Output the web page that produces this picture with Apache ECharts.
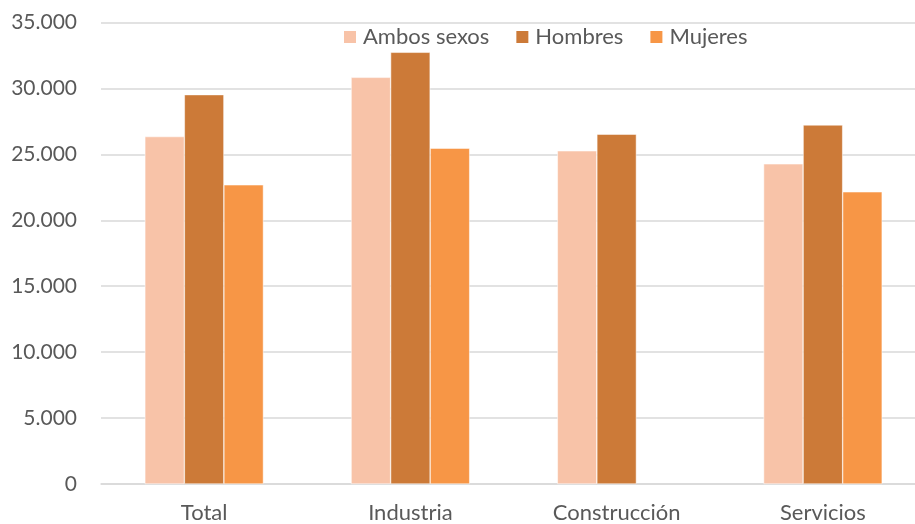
<!DOCTYPE html>
<html>
<head>
<meta charset="utf-8">
<script src="https://cdn.jsdelivr.net/npm/echarts@6/dist/echarts.min.js"></script>
<style>html,body{margin:0;padding:0;background:#fff;overflow:hidden;width:915px;height:524px}#c{width:926px;height:524px}</style>
</head>
<body>
<div id="c"></div>
<script>
const categories = ["Total", "Industria", "Construcción", "Servicios"];
const seriesNames = ["Ambos sexos", "Hombres", "Mujeres"];
const ambos = [26350, 30840, 25270, 24280];
const hombres = [29530, 32740, 26530, 27230];
const mujeres = [22690, 25470, null, 22160];
const yTicks = [0, 5000, 10000, 15000, 20000, 25000, 30000, 35000];

const colors = ["#F8C3A8", "#CC7A38", "#F79646"];
const font = "Lato, 'Open Sans', sans-serif";
const chart = echarts.init(document.getElementById('c'), null, {renderer: 'canvas'});
function fmt(v){ return String(v).replace(/\B(?=(\d{3})+(?!\d))/g, '.'); }
const data = [ambos, hombres, mujeres];
chart.setOption({
  animation: false,
  color: colors,
  textStyle: {fontFamily: font},
  legend: {
    left: 337, top: 21,
    itemWidth: 14, itemHeight: 14, itemGap: 25,
    icon: 'rect',
    textStyle: {fontSize: 22, color: '#595959', fontFamily: font, padding: [0,0,0,1]},
    data: seriesNames
  },
  grid: {left: 101, right: 0, top: 22.5, bottom: 39.5, containLabel: false},
  xAxis: {
    type: 'category', data: categories,
    axisLine: {lineStyle: {color: '#D9D9D9', width: 1.5}},
    axisTick: {show: false},
    axisLabel: {fontSize: 22, color: '#595959', margin: 18, fontFamily: font}
  },
  yAxis: {
    type: 'value', min: yTicks[0], max: yTicks[yTicks.length-1], interval: 5000,
    axisLine: {show: false}, axisTick: {show: false},
    splitLine: {lineStyle: {color: '#D9D9D9', width: 1.5}},
    axisLabel: {fontSize: 21, color: '#595959', margin: 24, fontFamily: font, formatter: fmt}
  },
  series: seriesNames.map((n, i) => ({
    name: n, type: 'bar', data: data[i],
    barGap: '0%', barCategoryGap: '42.5%',
    itemStyle: {color: colors[i], borderColor: '#ffffff', borderWidth: 0.5}
  }))
});
</script>
</body>
</html>
